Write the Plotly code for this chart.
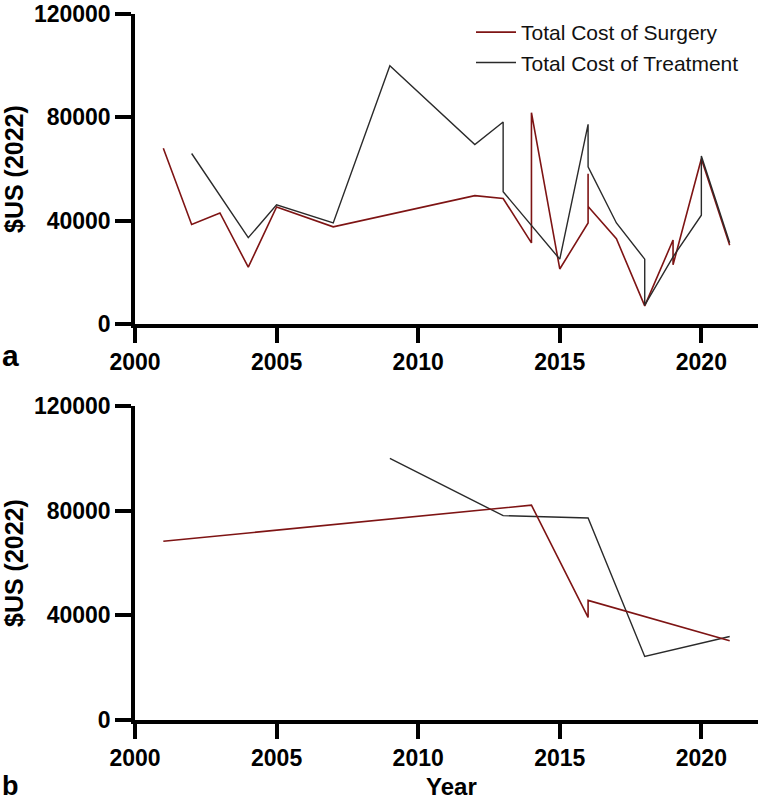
import plotly.graph_objects as go

# Panel a data
surgery_a_years = [2001, 2002, 2003, 2004, 2005, 2007, 2012, 2013, 2014, 2014, 2015,
                   2016, 2016, 2016, 2017, 2018, 2019, 2019, 2020, 2021]
surgery_a_vals = [68000, 38500, 43000, 22000, 45300, 37600, 49700, 48600, 31400, 81800, 21300,
                  39100, 58200, 45500, 33000, 7000, 32500, 22900, 64000, 30500]

treatment_a_years = [2002, 2004, 2005, 2007, 2009, 2012, 2013, 2013, 2015, 2016, 2016,
                     2017, 2018, 2018, 2019, 2020, 2020, 2021]
treatment_a_vals = [66000, 33400, 46100, 39100, 100000, 69500, 78200, 51200, 25100, 77300, 60800,
                    39100, 25100, 7300, 26000, 42100, 65000, 31500]

# Panel b data
surgery_b_years = [2001, 2014, 2016, 2016, 2021]
surgery_b_vals = [68300, 82100, 39200, 45700, 30300]

treatment_b_years = [2009, 2013, 2016, 2018, 2021]
treatment_b_vals = [100000, 78100, 77200, 24300, 31900]

x_ticks = [2000, 2005, 2010, 2015, 2020]
x_labels = ["2000", "2005", "2010", "2015", "2020"]
y_ticks = [0, 40000, 80000, 120000]
y_labels = ["0", "40000", "80000", "120000"]

RED = "#7e1414"
BLACK = "#2a2a2a"
W, H = 767, 802
FONT = "Liberation Sans, Arial, sans-serif"

def px(x):
    return x / W

def py(y):
    return 1 - y / H

fig = go.Figure()
fig.add_trace(go.Scatter(x=surgery_a_years, y=surgery_a_vals, mode="lines",
                         line=dict(color=RED, width=1.6), name="Total Cost of Surgery",
                         xaxis="x", yaxis="y"))
fig.add_trace(go.Scatter(x=treatment_a_years, y=treatment_a_vals, mode="lines",
                         line=dict(color=BLACK, width=1.4), name="Total Cost of Treatment",
                         xaxis="x", yaxis="y"))
fig.add_trace(go.Scatter(x=treatment_b_years, y=treatment_b_vals, mode="lines",
                         line=dict(color=BLACK, width=1.4), showlegend=False,
                         xaxis="x2", yaxis="y2"))
fig.add_trace(go.Scatter(x=surgery_b_years, y=surgery_b_vals, mode="lines",
                         line=dict(color=RED, width=1.6), showlegend=False,
                         xaxis="x2", yaxis="y2"))

tickfont = dict(family=FONT, size=23, color="black")
xdom = [px(135), px(758)]

def xax(anchor):
    return dict(domain=xdom, range=[2000, 2022], tickmode="array", tickvals=x_ticks,
                ticktext=["<b>%s</b>" % t for t in x_labels], showline=True,
                linewidth=3.5, linecolor="black", ticks="outside", ticklen=15, tickwidth=3.5,
                tickcolor="black", tickfont=tickfont, showgrid=False, zeroline=False,
                anchor=anchor, fixedrange=True, automargin=False, ticklabeloverflow="allow")

def yax(anchor, dom):
    return dict(domain=dom, range=[0, 120000], tickmode="array", tickvals=y_ticks,
                ticktext=["<b>%s</b>" % t for t in y_labels], showline=True,
                linewidth=3.5, linecolor="black", ticks="outside", ticklen=16, tickwidth=3.5,
                tickcolor="black", tickfont=tickfont, showgrid=False, zeroline=False,
                anchor=anchor, fixedrange=True, automargin=False, ticklabeloverflow="allow")

fig.update_layout(
    width=W, height=H,
    margin=dict(l=0, r=0, t=0, b=0, autoexpand=False),
    paper_bgcolor="white", plot_bgcolor="white",
    font=dict(family=FONT),
    xaxis=xax("y"),
    yaxis=yax("x", [py(324), py(14)]),
    xaxis2=xax("y2"),
    yaxis2=yax("x2", [py(720), py(406)]),
    legend=dict(x=px(471), y=py(12), xanchor="left", yanchor="top",
                bgcolor="rgba(0,0,0,0)",
                font=dict(family=FONT, size=21, color="#111"),
                itemwidth=40, tracegroupgap=0),
    showlegend=True,
)

annots = [
    dict(text="<b>a</b>", x=px(0), y=py(355), xanchor="left", yanchor="middle",
         font=dict(size=30, family=FONT, color="black")),
    dict(text="<b>b</b>", x=px(0), y=py(786), xanchor="left", yanchor="middle",
         font=dict(size=27, family=FONT, color="black")),
    dict(text="<b>Year</b>", x=px(451), y=py(786), xanchor="center", yanchor="middle",
         font=dict(size=24, family=FONT, color="black")),
    dict(text="<b>$US (2022)</b>", x=px(14), y=py(169), xanchor="center", yanchor="middle",
         textangle=-90, font=dict(size=25, family=FONT, color="black")),
    dict(text="<b>$US (2022)</b>", x=px(14), y=py(563), xanchor="center", yanchor="middle",
         textangle=-90, font=dict(size=25, family=FONT, color="black")),
]
for a in annots:
    a.update(xref="paper", yref="paper", showarrow=False)
fig.update_layout(annotations=annots)

fig.write_html("out.html", config={"displayModeBar": False},
               post_script="document.body.style.margin='0px';document.body.style.overflow='hidden';")
